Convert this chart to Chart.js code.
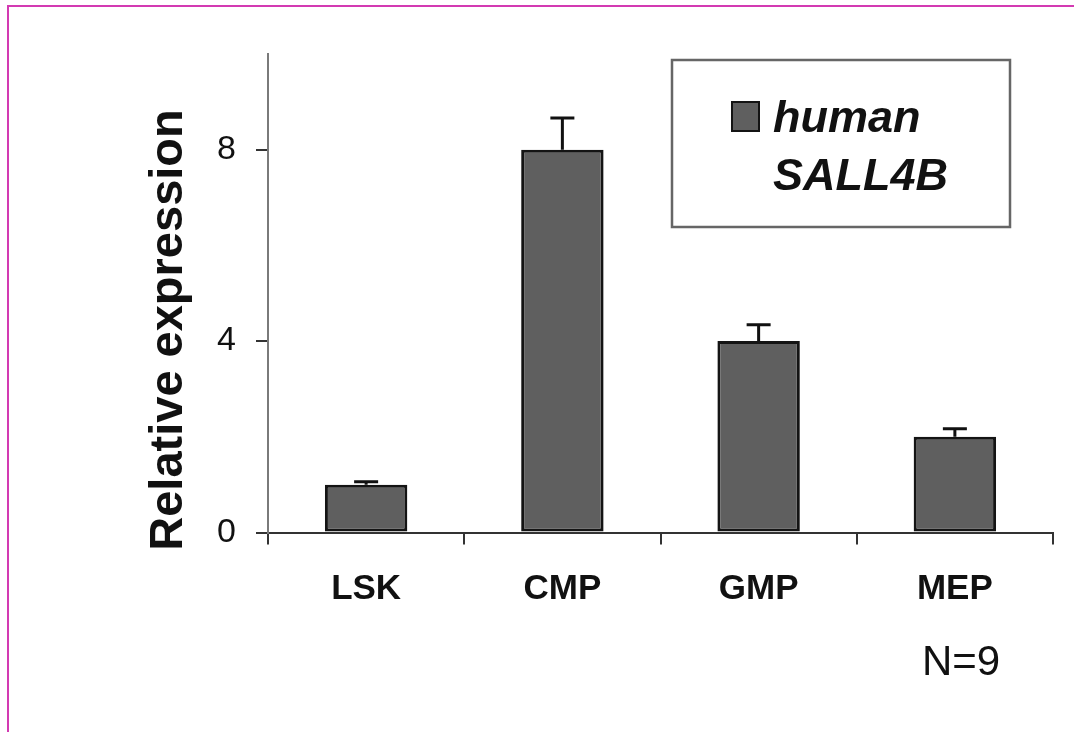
<!DOCTYPE html>
<html>
<head>
<meta charset="utf-8">
<script src="https://cdn.jsdelivr.net/npm/chart.js@4.4.1/dist/chart.umd.min.js"></script>
<style>
  html, body { margin: 0; padding: 0; background: #fff; }
  #wrap { position: relative; width: 1074px; height: 732px; overflow: hidden; }
  #frame { position: absolute; left: 7px; top: 5px; right: -4px; bottom: -4px;
           border-left: 2px solid #d33ab2; border-top: 2px solid #d33ab2; pointer-events: none; }
  canvas { position: absolute; left: 0; top: 0; }
</style>
</head>
<body>
<div id="wrap">
  <canvas id="c" width="1074" height="732"></canvas>
  <div id="frame"></div>
</div>
<script>
// Cell populations and their mean relative expression
const categories = ['LSK', 'CMP', 'GMP', 'MEP'];
const expression = [1.0, 8.0, 4.0, 2.0];
const errorUp = [0.06, 0.66, 0.34, 0.17];
const yTickValues = [0, 4, 8];
const seriesLabel = 'human SALL4B';
const yTitle = 'Relative expression';
const sampleNote = 'N=9';

const FONT = '"Liberation Sans", Arial, sans-serif';
const BAR_FILL = '#5f5f5f';
const BAR_EDGE = '#141414';

// Upper error bars with caps
const errorBars = {
  id: 'errorBars',
  afterDatasetsDraw(chart) {
    const { ctx } = chart;
    const y = chart.scales.y;
    const meta = chart.getDatasetMeta(0);
    ctx.save();
    ctx.strokeStyle = '#111';
    ctx.lineWidth = 3;
    meta.data.forEach((bar, i) => {
      const v = expression[i];
      const top = y.getPixelForValue(v + errorUp[i]);
      const base = y.getPixelForValue(v);
      ctx.beginPath();
      ctx.moveTo(bar.x, base);
      ctx.lineTo(bar.x, top);
      ctx.moveTo(bar.x - 12, top);
      ctx.lineTo(bar.x + 12, top);
      ctx.stroke();
    });
    ctx.restore();
  }
};

// Axis title, boxed legend and sample-size note
const annotations = {
  id: 'annotations',
  afterDraw(chart) {
    const { ctx } = chart;
    ctx.save();
    // rotated y-axis title
    ctx.translate(169, 330);
    ctx.rotate(-Math.PI / 2);
    ctx.fillStyle = '#111';
    ctx.font = 'bold 47px ' + FONT;
    ctx.textAlign = 'center';
    ctx.textBaseline = 'middle';
    ctx.fillText(yTitle, 0, 0);
    ctx.restore();

    // legend box
    ctx.save();
    ctx.strokeStyle = '#666';
    ctx.lineWidth = 2.5;
    ctx.strokeRect(672, 60, 338, 167);
    const ds = chart.data.datasets[0];
    ctx.fillStyle = ds.backgroundColor;
    ctx.fillRect(732, 102, 27, 29);
    ctx.strokeStyle = BAR_EDGE;
    ctx.lineWidth = 2;
    ctx.strokeRect(732, 102, 27, 29);
    ctx.fillStyle = '#111';
    ctx.font = 'italic bold 45px ' + FONT;
    ctx.textAlign = 'left';
    ctx.textBaseline = 'alphabetic';
    const words = ds.label.split(' ');
    ctx.fillText(words[0], 773, 132);
    ctx.fillText(words.slice(1).join(' '), 773, 190);

    // sample size
    ctx.font = '42px ' + FONT;
    ctx.fillText(sampleNote, 922, 675);
    ctx.restore();
  }
};

new Chart(document.getElementById('c'), {
  type: 'bar',
  data: {
    labels: categories,
    datasets: [{
      label: seriesLabel,
      data: expression,
      backgroundColor: BAR_FILL,
      borderColor: BAR_EDGE,
      borderWidth: 3,
      borderSkipped: false,
      categoryPercentage: 1.0,
      barPercentage: 0.42
    }]
  },
  options: {
    responsive: false,
    animation: false,
    devicePixelRatio: 1,
    layout: { padding: { top: 54, right: 21, left: 0, bottom: 0 } },
    plugins: { legend: { display: false }, tooltip: { enabled: false } },
    scales: {
      x: {
        grid: { display: true, drawOnChartArea: false, drawTicks: true, tickLength: 12,
                color: '#333', lineWidth: 2, offset: true },
        border: { display: true, color: '#333', width: 2 },
        ticks: { color: '#111', font: { family: FONT, size: 35, weight: 'bold' }, padding: 24 },
        afterFit(scale) { scale.height = 199.5; }
      },
      y: {
        min: 0,
        max: 10,
        afterBuildTicks(scale) { scale.ticks = yTickValues.map(v => ({ value: v })); },
        grid: { display: true, drawOnChartArea: false, drawTicks: true, tickLength: 12,
                color: '#333', lineWidth: 2 },
        border: { display: true, color: '#7a7a7a', width: 2 },
        ticks: { color: '#111', font: { family: FONT, size: 34 }, padding: 20 },
        afterFit(scale) { scale.width = 268; }
      }
    }
  },
  plugins: [errorBars, annotations]
});
</script>
</body>
</html>
